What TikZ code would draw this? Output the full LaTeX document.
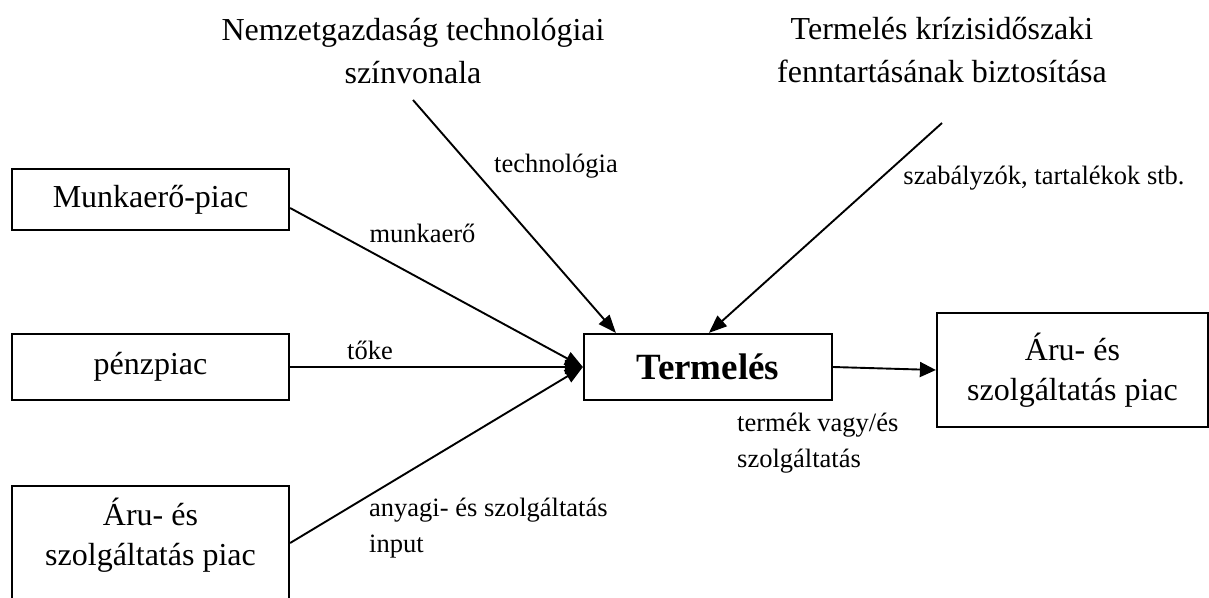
\documentclass[tikz,border=0pt]{standalone}
\usepackage{fontspec}
\setmainfont{Liberation Serif}
\usetikzlibrary{arrows.meta}
\begin{document}
\begin{tikzpicture}[x=1pt,y=-1pt,
  boxstyle/.style={draw, line width=2.2pt, inner sep=0pt, align=center,
     font=\fontsize{32}{40}\selectfont},
  bigtext/.style={inner sep=0pt, align=center, font=\fontsize{32}{43}\selectfont},
  smalltext/.style={inner sep=0pt, font=\fontsize{26.5}{36}\selectfont},
  arr/.style={line width=1.9pt, -{Triangle[length=18pt,width=14pt]}},
  plainline/.style={line width=1.9pt}]
\clip (0,0) rectangle (1209,597);
\fill[white] (0,0) rectangle (1209,597);

% boxes
\node[boxstyle, minimum width=277pt, minimum height=61pt] (munk) at (150.5,199.5) {Munkaerő-piac};
\node[boxstyle, minimum width=277pt, minimum height=66pt] (penz) at (150.5,367) {pénzpiac};
\node[boxstyle, minimum width=277pt, minimum height=200pt, anchor=north] (aru1) at (150.5,485) {};
\node[bigtext, font=\fontsize{32}{40}\selectfont] (aru1t) at (150.5,535) {Áru- és\\szolgáltatás piac};
\node[boxstyle, minimum width=248pt, minimum height=66pt, font=\fontsize{37}{40}\selectfont\bfseries] (term) at (708,367) {Termelés};
\node[boxstyle, minimum width=271pt, minimum height=114pt] (aru2) at (1072.5,370) {Áru- és\\szolgáltatás piac};

% top texts
\node[bigtext] (natl) at (413,51) {Nemzetgazdaság technológiai\\színvonala};
\node[bigtext] (cris) at (942,50) {Termelés krízisidőszaki\\fenntartásának biztosítása};

% connector labels
\node[smalltext] (ltech) at (556,166) {technológia};
\node[smalltext] (lmunk) at (422.5,233) {munkaerő};
\node[smalltext] (ltoke) at (370,350) {tőke};
\node[smalltext] (lszab) at (1044,178) {szabályzók, tartalékok stb.};
\node[smalltext, align=left, anchor=west] (lanyag) at (369,528) {anyagi- és szolgáltatás\\input};
\node[smalltext, align=left, anchor=west] (lterm) at (737,443) {termék vagy/és\\szolgáltatás};

% connector end points
\coordinate (mS) at ([yshift=-8.5pt]munk.east);
\coordinate (aS) at ([yshift=-58pt]aru1.north east);
\coordinate (tS) at (413,100);
\coordinate (sS) at (942,123);
\coordinate (tT) at ([xshift=33pt]term.north west);
\coordinate (sT) at ([xshift=126pt]term.north west);

% connectors
\draw[arr] (mS) -- (term.west);
\draw[arr] (penz.east) -- (term.west);
\draw[arr] (aS) -- (term.west);
\draw[arr] (tS) -- (tT);
\draw[arr] (sS) -- (sT);
\draw[arr, -{Triangle[length=16pt,width=15pt]}] (term.east) -- (aru2.west);
\end{tikzpicture}
\end{document}
